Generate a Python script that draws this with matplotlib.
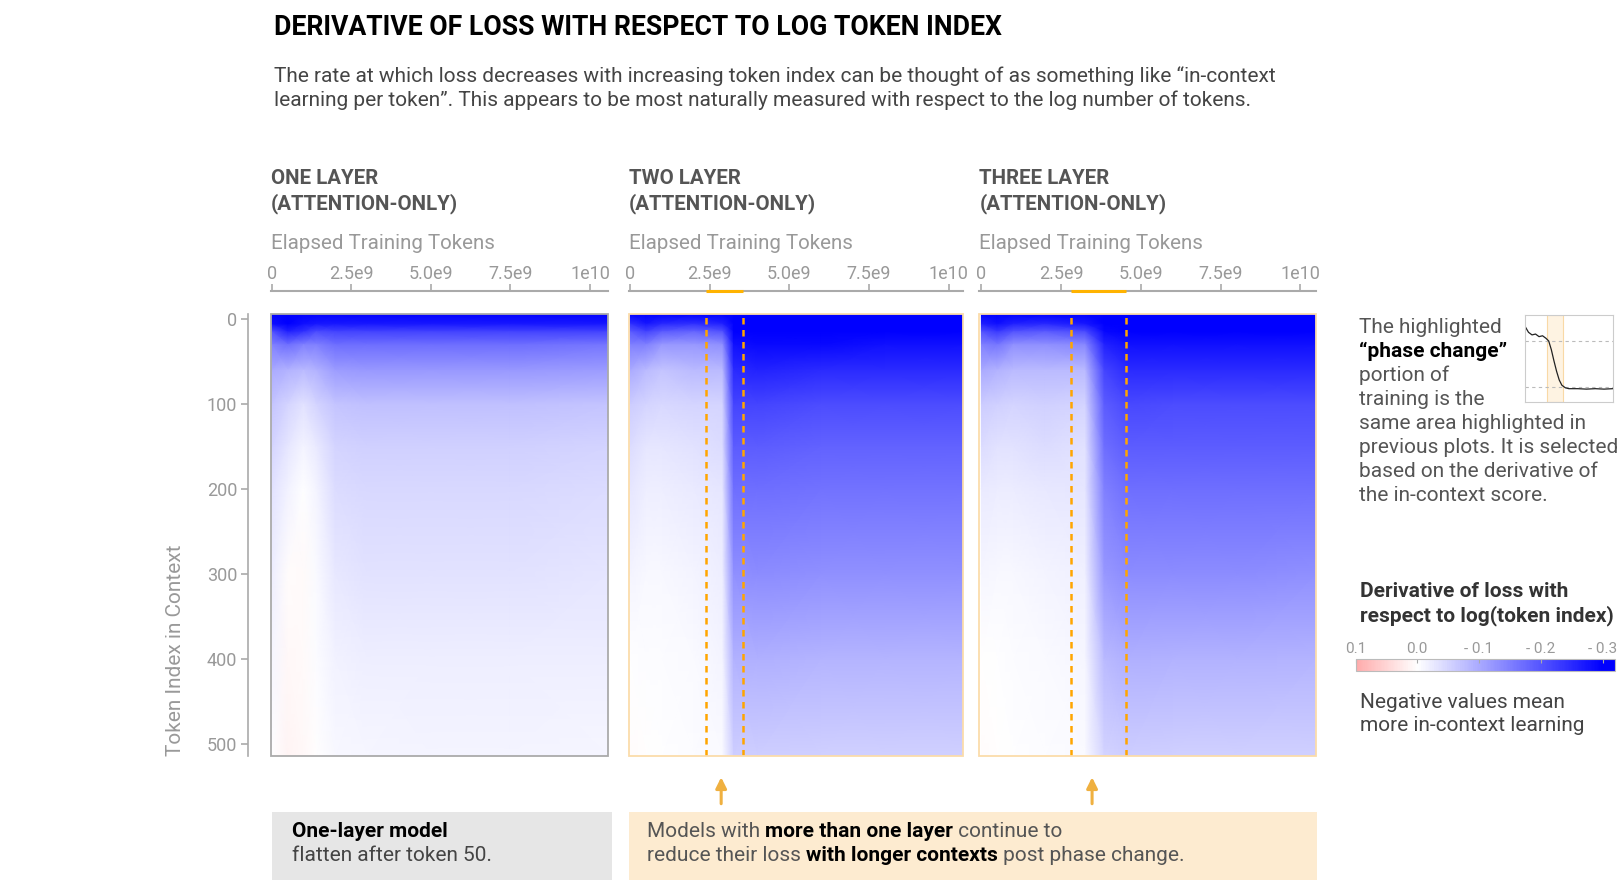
import numpy as np
import matplotlib
matplotlib.use("Agg")
import matplotlib.pyplot as plt
from matplotlib.colors import LinearSegmentedColormap, Normalize
from matplotlib.cm import ScalarMappable
from matplotlib.patches import Rectangle, FancyArrowPatch

plt.rcParams["font.family"] = ["Roboto", "DejaVu Sans"]

# ---- data ----
token_rows = [-6, 6, 15, 30, 60, 100, 150, 200, 300, 400, 514]

one_layer_steps = [0, 0.5e9, 1.0e9, 1.4e9, 2.0e9, 3.0e9, 5.0e9, 7.5e9, 10.55e9]
one_layer_vals = [
    [-0.30, -0.30, -0.30, -0.30, -0.30, -0.30, -0.30, -0.30, -0.30],
    [-0.28, -0.30, -0.28, -0.27, -0.27, -0.27, -0.27, -0.27, -0.27],
    [-0.20, -0.26, -0.24, -0.21, -0.22, -0.22, -0.22, -0.22, -0.22],
    [-0.15, -0.17, -0.15, -0.15, -0.17, -0.17, -0.17, -0.17, -0.16],
    [-0.10, -0.09, -0.08, -0.09, -0.115, -0.12, -0.12, -0.12, -0.115],
    [-0.07, -0.05, -0.035, -0.05, -0.07, -0.075, -0.075, -0.075, -0.07],
    [-0.05, -0.03, -0.012, -0.025, -0.05, -0.055, -0.055, -0.055, -0.05],
    [-0.035, -0.015, -0.002, -0.014, -0.04, -0.045, -0.045, -0.045, -0.04],
    [-0.02, 0.004, 0.005, -0.006, -0.028, -0.033, -0.033, -0.033, -0.03],
    [-0.01, 0.008, 0.007, -0.003, -0.016, -0.02, -0.021, -0.021, -0.02],
    [-0.002, 0.012, 0.008, 0.0, -0.008, -0.01, -0.012, -0.012, -0.01],
]

two_layer_steps = [0, 0.5e9, 1.0e9, 2.0e9, 2.9e9, 3.25e9, 4.0e9, 6.0e9, 8.0e9, 10.45e9]
two_layer_vals = [
    [-0.30, -0.30, -0.30, -0.30, -0.30, -0.30, -0.30, -0.30, -0.30, -0.30],
    [-0.24, -0.27, -0.25, -0.24, -0.26, -0.30, -0.30, -0.30, -0.30, -0.30],
    [-0.19, -0.22, -0.19, -0.18, -0.20, -0.30, -0.30, -0.30, -0.30, -0.30],
    [-0.15, -0.15, -0.12, -0.12, -0.13, -0.28, -0.29, -0.29, -0.28, -0.28],
    [-0.10, -0.08, -0.07, -0.08, -0.08, -0.25, -0.26, -0.25, -0.25, -0.25],
    [-0.06, -0.05, -0.045, -0.05, -0.05, -0.22, -0.22, -0.21, -0.21, -0.21],
    [-0.04, -0.03, -0.03, -0.035, -0.04, -0.19, -0.19, -0.185, -0.185, -0.185],
    [-0.03, -0.02, -0.02, -0.025, -0.03, -0.17, -0.17, -0.165, -0.165, -0.165],
    [-0.012, -0.008, -0.008, -0.012, -0.02, -0.13, -0.135, -0.13, -0.13, -0.13],
    [-0.002, -0.003, -0.004, -0.006, -0.012, -0.09, -0.092, -0.088, -0.088, -0.088],
    [0.004, 0.0, -0.002, -0.003, -0.006, -0.058, -0.058, -0.055, -0.055, -0.055],
]

three_layer_steps = [0, 0.5e9, 1.0e9, 2.0e9, 3.25e9, 3.85e9, 4.6e9, 6.0e9, 8.0e9, 10.5e9]
three_layer_vals = [
    [-0.30, -0.30, -0.30, -0.30, -0.30, -0.30, -0.30, -0.30, -0.30, -0.30],
    [-0.26, -0.28, -0.26, -0.25, -0.27, -0.30, -0.30, -0.30, -0.30, -0.30],
    [-0.20, -0.23, -0.20, -0.19, -0.21, -0.29, -0.30, -0.30, -0.30, -0.30],
    [-0.15, -0.16, -0.13, -0.13, -0.14, -0.26, -0.28, -0.28, -0.28, -0.28],
    [-0.10, -0.09, -0.08, -0.08, -0.08, -0.22, -0.25, -0.25, -0.25, -0.25],
    [-0.06, -0.055, -0.05, -0.055, -0.05, -0.19, -0.215, -0.21, -0.21, -0.21],
    [-0.04, -0.035, -0.035, -0.04, -0.035, -0.17, -0.19, -0.19, -0.19, -0.19],
    [-0.025, -0.022, -0.022, -0.027, -0.03, -0.15, -0.17, -0.17, -0.17, -0.17],
    [-0.01, -0.008, -0.008, -0.012, -0.018, -0.12, -0.135, -0.135, -0.135, -0.13],
    [0.0, -0.002, -0.004, -0.006, -0.01, -0.08, -0.092, -0.09, -0.09, -0.088],
    [0.004, 0.0, -0.002, -0.003, -0.005, -0.05, -0.058, -0.056, -0.056, -0.055],
]

# phase change windows (training tokens)
two_layer_phase = [2.37e9, 3.54e9]
three_layer_phase = [2.82e9, 4.55e9]

x_ticks = [0, 2.5e9, 5.0e9, 7.5e9, 1e10]
x_tick_labels = ["0", "2.5e9", "5.0e9", "7.5e9", "1e10"]
y_ticks = [0, 100, 200, 300, 400, 500]

cbar_ticks = [0.1, 0.0, -0.1, -0.2, -0.3]
cbar_labels = ["0.1", "0.0", "- 0.1", "- 0.2", "- 0.3"]

# small inset: in-context score over training (normalised)
inset_x = [0, 0.04, 0.08, 0.12, 0.16, 0.20, 0.24, 0.27, 0.30, 0.33, 0.36, 0.39,
           0.42, 0.46, 0.50, 0.60, 0.70, 0.80, 0.90, 1.0]
inset_y = [0.87, 0.80, 0.77, 0.78, 0.75, 0.76, 0.73, 0.70, 0.60, 0.47, 0.35, 0.25,
           0.19, 0.16, 0.15, 0.15, 0.145, 0.15, 0.145, 0.15]
inset_band = [0.255, 0.433]
inset_refs = [0.70, 0.17]

# ---- layout helpers (pixel grid of the reference) ----
W, H = 1567.0, 858.0


def fx(px):
    return px / W


def fy(py):
    return 1 - py / H


cmap = LinearSegmentedColormap.from_list("bwr_", ["#0000ff", "#ffffff", "#ff0000"])
norm = Normalize(vmin=-0.3, vmax=0.3)

fig = plt.figure(figsize=(16.19, 8.86), dpi=100)
renderer = fig.canvas.get_renderer()

GRAY_TXT = "#555555"
LIGHT = "#999999"
AXIS = "#aaaaaa"
BODY = 15


def rich(x, y, parts, size):
    # draw text pieces one after another on a line
    for text, bold, color in parts:
        t = fig.text(x, y, text, fontsize=size, color=color,
                     fontweight="bold" if bold else "normal", va="center", ha="left")
        bb = t.get_window_extent(renderer=renderer)
        x += bb.width / fig.bbox.width


panels = [
    ("ONE LAYER", one_layer_steps, one_layer_vals, None, 262, 588, 10.55e9, "#aaaaaa"),
    ("TWO LAYER", two_layer_steps, two_layer_vals, two_layer_phase, 609, 932, 10.45e9, "#fbdcaa"),
    ("THREE LAYER", three_layer_steps, three_layer_vals, three_layer_phase, 948, 1274, 10.5e9, "#fbdcaa"),
]

for i, (name, steps, vals, phase, x0, x1, xmax, border) in enumerate(panels):
    xlim = (-0.03e9 if i < 2 else -0.06e9, xmax)
    ax = fig.add_axes([fx(x0), fy(732), fx(x1) - fx(x0), fy(304) - fy(732)])
    X, Y = np.meshgrid(steps, token_rows)
    ax.pcolormesh(X, Y, np.array(vals), cmap=cmap, norm=norm, shading="gouraud")
    ax.set_xlim(*xlim)
    ax.set_ylim(514, -6)
    ax.set_xticks([])
    for s in ["top", "right", "bottom"]:
        ax.spines[s].set_visible(False)
    if i == 0:
        ax.spines["left"].set_position(("outward", 16))
        ax.spines["left"].set_color(AXIS)
        ax.spines["left"].set_linewidth(1.2)
        ax.set_yticks(y_ticks)
        ax.tick_params(axis="y", direction="out", length=5, width=1.2, colors=AXIS,
                       labelcolor=LIGHT, labelsize=13, pad=3)
    else:
        ax.spines["left"].set_visible(False)
        ax.set_yticks([])
    ax.add_patch(Rectangle((0, 0), 1, 1, transform=ax.transAxes, fill=False,
                           ec=border, lw=1.3, clip_on=False, zorder=5))
    if phase is not None:
        for p in phase:
            ax.axvline(p, color="#ffa500", lw=1.8, ls=(0, (2.6, 2.2)), zorder=4)

    # top axis
    ax_t = fig.add_axes([fx(x0), fy(282), fx(x1) - fx(x0), 1e-4])
    ax_t.set_xlim(*xlim)
    ax_t.set_ylim(0, 1)
    ax_t.patch.set_visible(False)
    ax_t.set_yticks([])
    ax_t.xaxis.tick_top()
    ax_t.set_xticks(x_ticks)
    ax_t.set_xticklabels(x_tick_labels)
    ax_t.tick_params(axis="x", direction="out", length=5, width=1.2, colors=AXIS,
                     labelcolor=LIGHT, labelsize=13, pad=0.5)
    for s in ["bottom", "left", "right"]:
        ax_t.spines[s].set_visible(False)
    ax_t.spines["top"].set_color(AXIS)
    ax_t.spines["top"].set_linewidth(1.5)
    if phase is not None:
        ax_t.plot(phase, [1, 1], color="#ffb300", lw=2.2, clip_on=False,
                  solid_capstyle="butt", zorder=5)

    fig.text(fx(x0), fy(173), name, fontsize=14.8, fontweight="bold", color=GRAY_TXT, va="center")
    fig.text(fx(x0), fy(197), "(ATTENTION-ONLY)", fontsize=14.8, fontweight="bold",
             color=GRAY_TXT, va="center")
    fig.text(fx(x0), fy(236), "Elapsed Training Tokens", fontsize=14.8, color=LIGHT, va="center")

fig.text(fx(170), fy(630), "Token Index in Context", rotation=90, ha="center", va="center",
         fontsize=BODY, color=LIGHT)

# title and intro
fig.text(fx(265), fy(27), "DERIVATIVE OF LOSS WITH RESPECT TO LOG TOKEN INDEX",
         fontsize=19.2, fontweight="bold", color="black", va="center")
fig.text(fx(265), fy(74), "The rate at which loss decreases with increasing token index can be "
         "thought of as something like \u201cin-context", fontsize=BODY, color="#444444", va="center")
fig.text(fx(265), fy(97), "learning per token\u201d. This appears to be most naturally measured "
         "with respect to the log number of tokens.", fontsize=BODY, color="#444444", va="center")

# right-hand note
note = [
    ("The highlighted", False),
    ("\u201cphase change\u201d", True),
    ("portion of", False),
    ("training is the", False),
    ("same area highlighted in", False),
    ("previous plots. It is selected", False),
    ("based on the derivative of", False),
    ("the in-context score.", False),
]
for k, (line, bold) in enumerate(note):
    fig.text(fx(1315), fy(317 + k * 23.3), line, fontsize=BODY, va="center",
             fontweight="bold" if bold else "normal", color="black" if bold else GRAY_TXT)

axi = fig.add_axes([fx(1476), fy(389), fx(1561) - fx(1476), fy(305) - fy(389)])
axi.axvspan(*inset_band, facecolor="#fef3e2", edgecolor="#f9d9a6", lw=0.8)
for r in inset_refs:
    axi.axhline(r, color="#bbbbbb", lw=0.8, ls=(0, (3, 3)))
axi.plot(inset_x, inset_y, color="#222222", lw=0.9)
axi.set_xlim(0, 1)
axi.set_ylim(0, 1)
axi.set_xticks([])
axi.set_yticks([])
for s in axi.spines.values():
    s.set_color("#cccccc")
    s.set_linewidth(0.8)

# colour bar
fig.text(fx(1316), fy(573), "Derivative of loss with", fontsize=BODY, fontweight="bold",
         color="#333333", va="center")
fig.text(fx(1316), fy(596), "respect to log(token index)", fontsize=BODY, fontweight="bold",
         color="#333333", va="center")
cax = fig.add_axes([fx(1312), fy(650), fx(1563) - fx(1312), fy(638) - fy(650)])
sm = ScalarMappable(norm=norm, cmap=cmap)
cb = fig.colorbar(sm, cax=cax, orientation="horizontal",
                  boundaries=np.linspace(-0.32, 0.1, 300))
cax.invert_xaxis()
cb.set_ticks(cbar_ticks)
cb.set_ticklabels(cbar_labels)
cax.xaxis.set_ticks_position("top")
cax.xaxis.set_label_position("top")
cax.tick_params(axis="x", direction="in", length=3, width=0.8, colors=AXIS,
                labelcolor=LIGHT, labelsize=11, pad=2)
cb.outline.set_edgecolor("#bbbbbb")
cb.outline.set_linewidth(0.8)
fig.text(fx(1316), fy(680), "Negative values mean", fontsize=BODY, color="#444444", va="center")
fig.text(fx(1316), fy(703), "more in-context learning", fontsize=BODY, color="#444444", va="center")

# arrows to the phase change
for ax_px in [698, 1057]:
    fig.add_artist(FancyArrowPatch((fx(ax_px), fy(781)), (fx(ax_px), fy(750)),
                                   transform=fig.transFigure, arrowstyle="-|>",
                                   mutation_scale=16, lw=2.2, color="#efb040"))

# bottom call-out boxes
fig.add_artist(Rectangle((fx(263), fy(852)), fx(592) - fx(263), fy(786) - fy(852),
                         transform=fig.transFigure, facecolor="#e6e6e6", edgecolor="none"))
fig.add_artist(Rectangle((fx(609), fy(852)), fx(1275) - fx(609), fy(786) - fy(852),
                         transform=fig.transFigure, facecolor="#fdebd0", edgecolor="none"))
rich(fx(283), fy(805), [("One-layer model", True, "black")], BODY)
rich(fx(283), fy(828), [("flatten after token 50.", False, "#444444")], BODY)
rich(fx(626), fy(805), [("Models with ", False, "#555555"),
                        ("more than one layer", True, "black"),
                        (" continue to", False, "#555555")], BODY)
rich(fx(626), fy(828), [("reduce their loss ", False, "#555555"),
                        ("with longer contexts", True, "black"),
                        (" post phase change.", False, "#555555")], BODY)

fig.savefig("out.png", dpi=100)
